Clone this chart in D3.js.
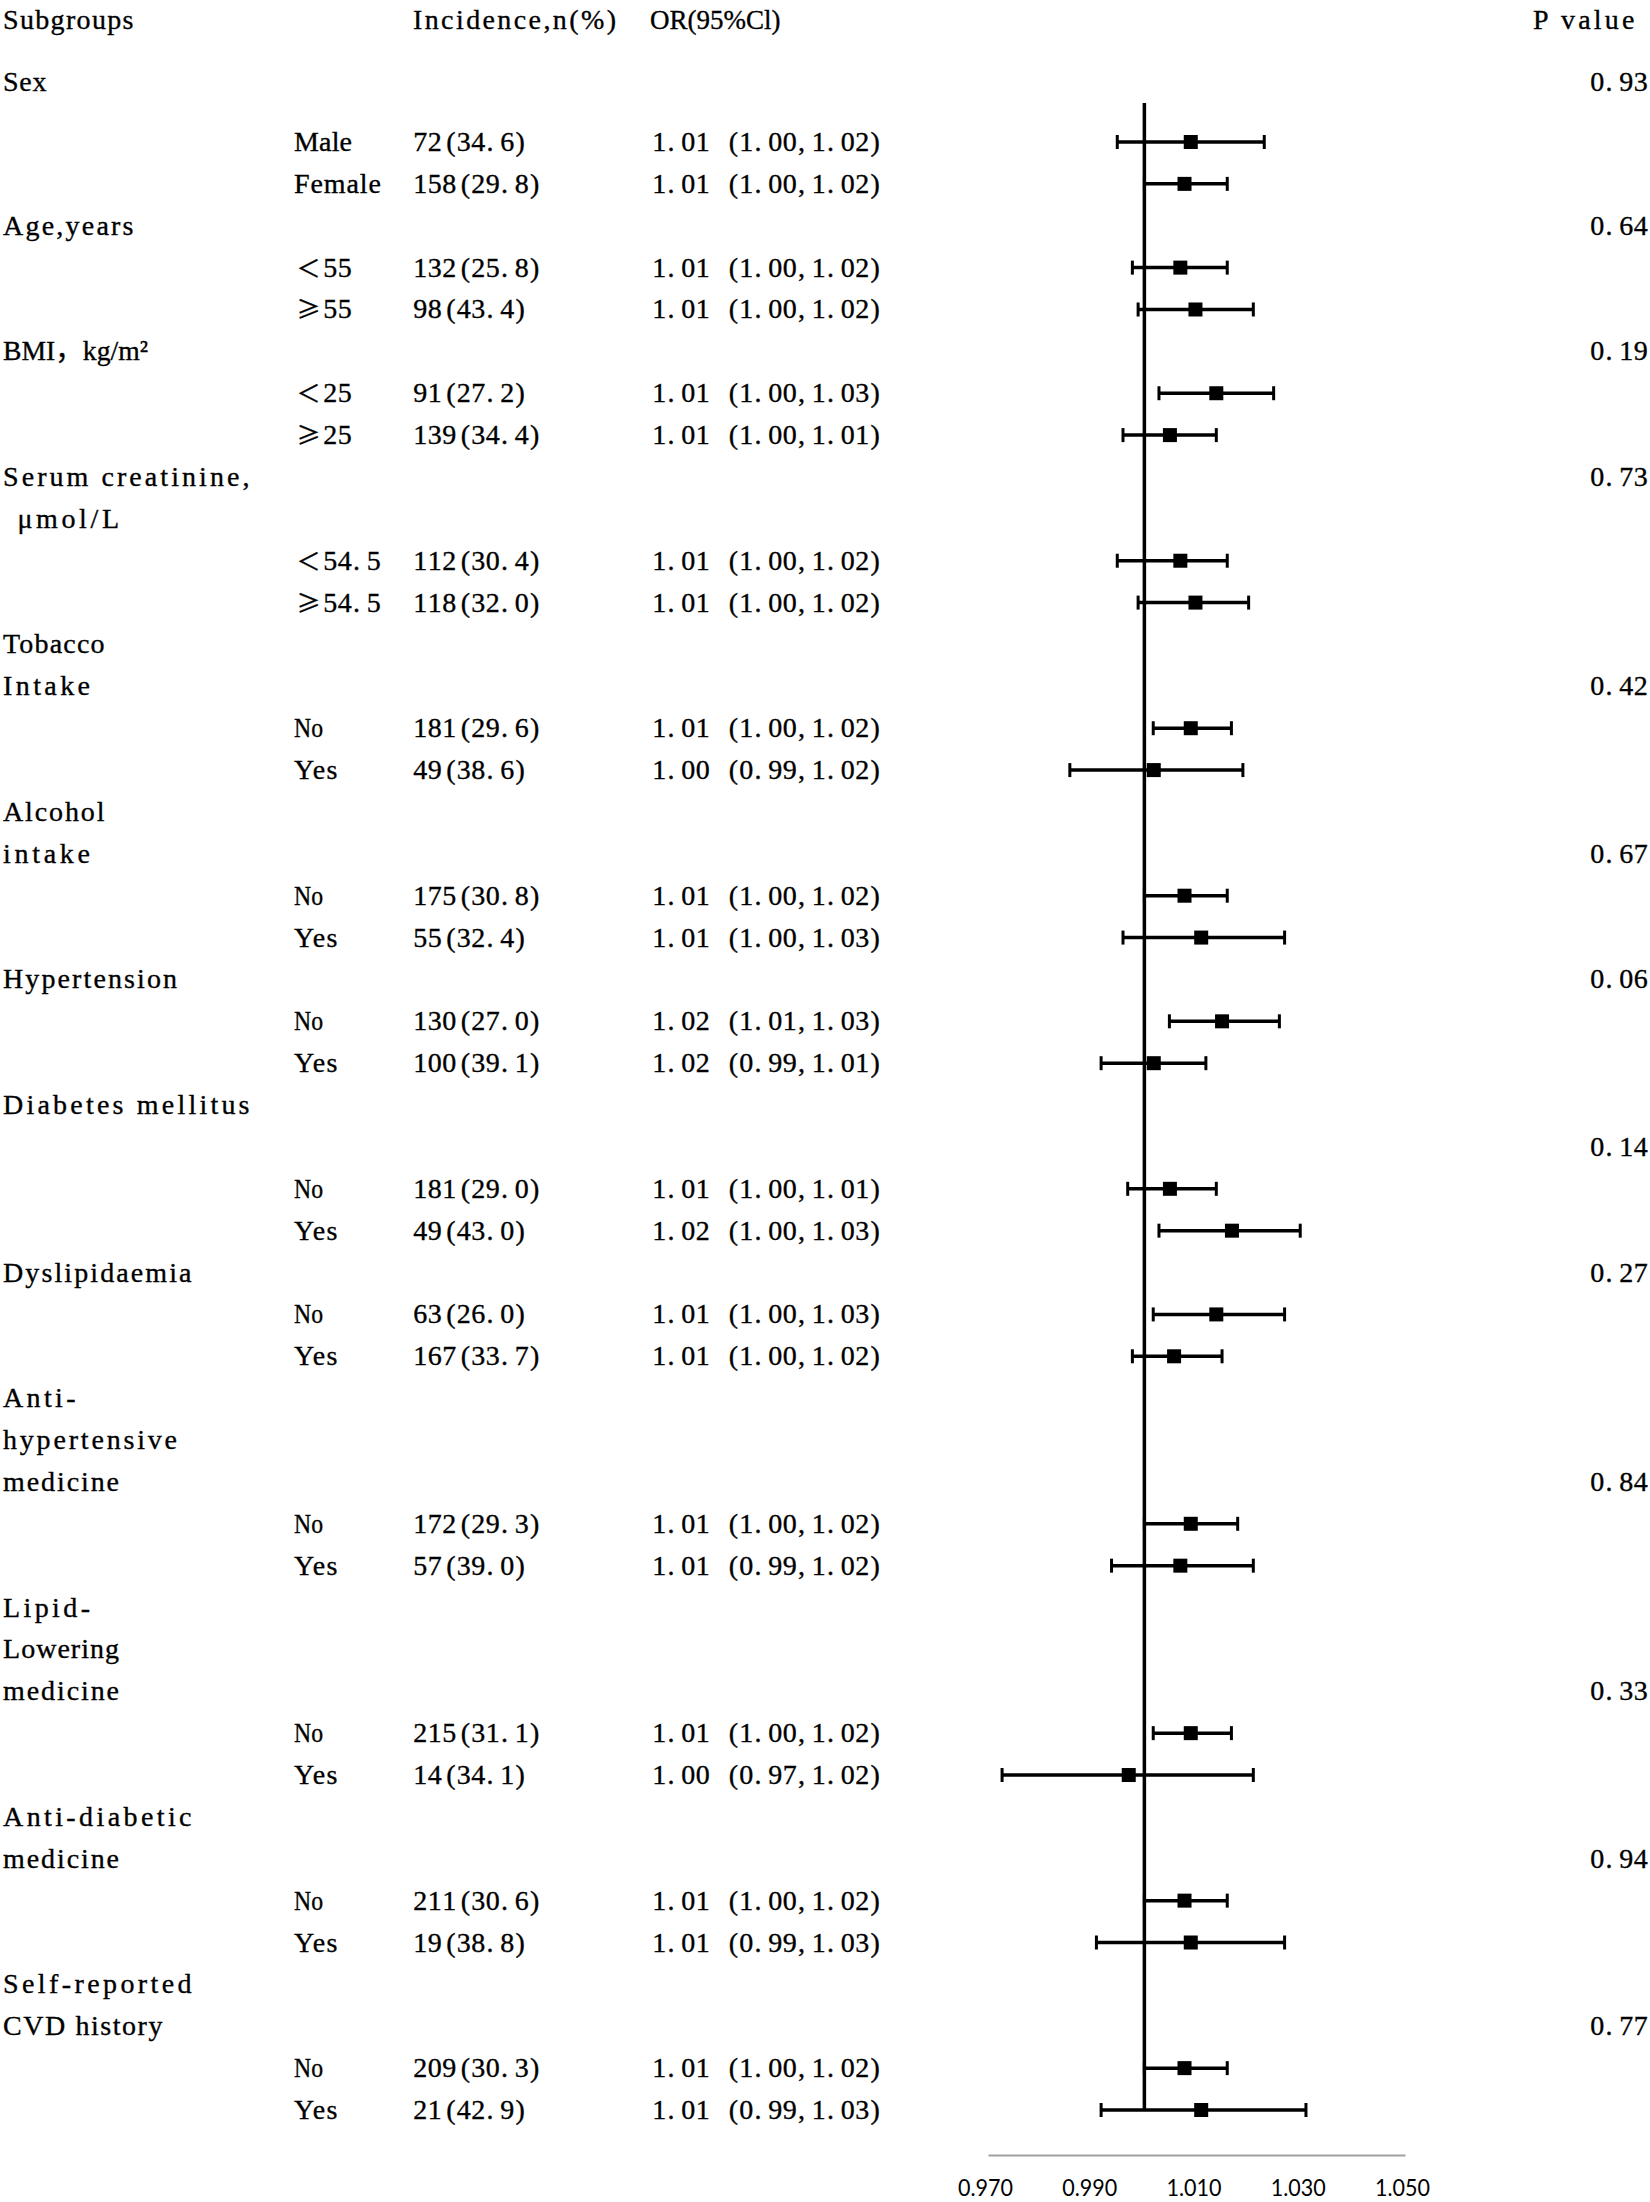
<!DOCTYPE html>
<html>
<head>
<meta charset="utf-8">
<title>Subgroup analysis forest plot</title>
<script src="https://cdn.jsdelivr.net/npm/d3@7"></script>
<style>
  body { margin: 0; background: #fff; }
  svg text { font-family: "Liberation Serif", "Times New Roman", "Noto Sans CJK SC", serif; font-size: 28px; fill: #000;
             stroke: #000; stroke-width: 0.35px; font-variant-ligatures: none; }
  .x-axis text { font-family: Lato, "Liberation Sans", sans-serif; font-size: 24px; fill: #000; stroke: none; }
  .x-axis .domain { stroke: #a0a0a0; stroke-width: 2px; }
</style>
</head>
<body>
<svg id="chart"></svg>
<script>
// ---- data ----
const headers = ["Subgroups", "Incidence,n(%)", "OR(95%Cl)", "P value"]

const groupLines = [
  ["Sex"],
  ["Age,years"],
  ["BMI，kg/m²"],
  ["Serum creatinine,", " μmol/L"],
  ["Tobacco", "Intake"],
  ["Alcohol", "intake"],
  ["Hypertension"],
  ["Diabetes mellitus", ""],
  ["Dyslipidaemia"],
  ["Anti-", "hypertensive", "medicine"],
  ["Lipid-", "Lowering", "medicine"],
  ["Anti-diabetic", "medicine"],
  ["Self-reported", "CVD history"]
]
const pValues = ["0.93", "0.64", "0.19", "0.73", "0.42", "0.67", "0.06", "0.14", "0.27", "0.84", "0.33", "0.94", "0.77"]
// which line of the group label carries the P value
const pLine = [0, 0, 0, 0, 1, 1, 0, 1, 0, 2, 2, 1, 1]

const subLabels = ["Male", "Female", "＜55", "≥55", "＜25", "≥25", "＜54.5", "≥54.5",
  "No", "Yes", "No", "Yes", "No", "Yes", "No", "Yes", "No", "Yes",
  "No", "Yes", "No", "Yes", "No", "Yes", "No", "Yes"]
const incidence = ["72(34.6)", "158(29.8)", "132(25.8)", "98(43.4)", "91(27.2)", "139(34.4)",
  "112(30.4)", "118(32.0)", "181(29.6)", "49(38.6)", "175(30.8)", "55(32.4)",
  "130(27.0)", "100(39.1)", "181(29.0)", "49(43.0)", "63(26.0)", "167(33.7)",
  "172(29.3)", "57(39.0)", "215(31.1)", "14(34.1)", "211(30.6)", "19(38.8)",
  "209(30.3)", "21(42.9)"]
const orText = ["1.01 (1.00,1.02)", "1.01 (1.00,1.02)", "1.01 (1.00,1.02)", "1.01 (1.00,1.02)",
  "1.01 (1.00,1.03)", "1.01 (1.00,1.01)", "1.01 (1.00,1.02)", "1.01 (1.00,1.02)",
  "1.01 (1.00,1.02)", "1.00 (0.99,1.02)", "1.01 (1.00,1.02)", "1.01 (1.00,1.03)",
  "1.02 (1.01,1.03)", "1.02 (0.99,1.01)", "1.01 (1.00,1.01)", "1.02 (1.00,1.03)",
  "1.01 (1.00,1.03)", "1.01 (1.00,1.02)", "1.01 (1.00,1.02)", "1.01 (0.99,1.02)",
  "1.01 (1.00,1.02)", "1.00 (0.97,1.02)", "1.01 (1.00,1.02)", "1.01 (0.99,1.03)",
  "1.01 (1.00,1.02)", "1.01 (0.99,1.03)"]

// plotted positions (as drawn)
const orEst = [1.0089, 1.0077, 1.0069, 1.0098, 1.0138, 1.0049, 1.0069, 1.0098,
  1.0089, 1.0018, 1.0077, 1.0109, 1.0149, 1.0018, 1.0049, 1.0168, 1.0138, 1.0057,
  1.0089, 1.0069, 1.0089, 0.9970, 1.0077, 1.0089, 1.0077, 1.0109]
const orLow = [0.9948, 1.0000, 0.9977, 0.9988, 1.0028, 0.9959, 0.9948, 0.9988,
  1.0017, 0.9857, 1.0000, 0.9959, 1.0048, 0.9917, 0.9968, 1.0028, 1.0017, 0.9977,
  1.0000, 0.9937, 1.0017, 0.9727, 1.0000, 0.9908, 1.0000, 0.9917]
const orHigh = [1.0230, 1.0159, 1.0159, 1.0209, 1.0248, 1.0138, 1.0159, 1.0200,
  1.0167, 1.0189, 1.0159, 1.0269, 1.0259, 1.0118, 1.0138, 1.0299, 1.0269, 1.0149,
  1.0179, 1.0209, 1.0167, 1.0209, 1.0159, 1.0269, 1.0159, 1.0310]

const tickValues = [0.970, 0.990, 1.010, 1.030, 1.050]
const refValue = 1.0

// ---- layout ----
const width = 1650
const height = 2202
const cell = 14.5          // half-width character cell of the table font
const baseShift = 9        // row centre -> text baseline
const col = {label: 3, sub: 294, inc: 413, or: 652, pRight: 1648, pHead: 1533}
const headerBaseline = 29
const firstGap = 60        // "Sex" sits a bit higher than the row grid
const nLines = 48

const x = d3.scaleLinear().domain([0.97, 1.05]).range([988, 1405])
const y = d3.scaleLinear().domain([0, nLines - 1]).range([142, 2110])

const wide = /[μ≥≤＜＞，（）\u3000-\u9fff\uff00-\uffef]/
const cellsOf = ch => wide.test(ch) ? 2 : 1
const strCells = s => d3.sum(Array.from(s), cellsOf)

// numbers: one tspan per character, placed in fixed cells like the original table font
function mono(sel, getStr, getX0) {
  sel.each(function(d) {
    const t = d3.select(this)
    let cx = getX0(d)
    Array.from(getStr(d)).forEach(ch => {
      const w = cellsOf(ch) * cell
      if (ch !== " ") {
        let px = cx + w / 2, anchor = "middle"
        if (ch === "(") { px = cx + w - 1; anchor = "end" }
        else if (ch === ")" || ch === "." || ch === ",") { px = cx + 1; anchor = "start" }
        const ts = t.append("tspan").attr("x", px.toFixed(1)).attr("text-anchor", anchor).text(ch)
        if (w > cell) ts.style("font-family", '"Noto Sans CJK SC", sans-serif').style("font-size", "24px")
      }
      cx += w
    })
  })
}

// words: stretch or squeeze to the cell width of the original
function fit(sel, getStr, getX0) {
  sel.each(function(d) {
    const raw = getStr(d)
    const lead = raw.length - raw.trimStart().length
    const s = raw.trimStart()
    const t = d3.select(this).attr("x", getX0(d) + lead * cell).text(s)
    const natural = this.getComputedTextLength()
    const target = strCells(s) * cell
    t.attr("textLength", target)
      .attr("lengthAdjust", natural > target ? "spacingAndGlyphs" : "spacing")
  })
}

const hasLetters = s => /[A-Za-z]/.test(s)

// work out which line each piece of text lands on
const labelRows = []
const pRows = []
const subRows = []
let line = 0
groupLines.forEach((lines, g) => {
  if (g === 0) {
    const yy = y(0) - firstGap
    labelRows.push({text: lines[0], y: yy})
    pRows.push({text: pValues[g], y: yy})
  } else {
    lines.forEach((t, i) => { if (t) labelRows.push({text: t, y: y(line + i)}) })
    pRows.push({text: pValues[g], y: y(line + pLine[g])})
    line += lines.length
  }
  subRows.push(line, line + 1)
  line += 2
})

const rows = subRows.map((ln, i) => ({
  y: y(ln), label: subLabels[i], inc: incidence[i], or: orText[i],
  est: orEst[i], lo: orLow[i], hi: orHigh[i]
}))

const svg = d3.select("#chart")
  .attr("width", width)
  .attr("height", height)
  .attr("viewBox", [0, 0, width, height])

svg.append("rect").attr("width", width).attr("height", height).attr("fill", "#fff")

// ---- header ----
const headX = [col.label, col.inc, col.or - 2, col.pHead]
svg.append("g").attr("class", "header")
  .selectAll("text")
  .data(headers)
  .join("text")
    .attr("y", headerBaseline)
    .call(fit, d => d, d => headX[headers.indexOf(d)])

// ---- group labels ----
svg.append("g").attr("class", "labels")
  .selectAll("text")
  .data(labelRows)
  .join("text")
    .attr("y", d => d.y + baseShift)
    .call(fit, d => d.text, () => col.label)

svg.append("g").attr("class", "pvals")
  .selectAll("text")
  .data(pRows)
  .join("text")
    .attr("y", d => d.y + baseShift)
    .call(mono, d => d.text, d => col.pRight - strCells(d.text) * cell)

// ---- subgroup rows ----
const rowG = svg.append("g").attr("class", "rows")
  .selectAll("g")
  .data(rows)
  .join("g")

rowG.filter(d => hasLetters(d.label)).append("text")
  .attr("y", d => d.y + baseShift)
  .call(fit, d => d.label, () => col.sub)

rowG.filter(d => !hasLetters(d.label)).append("text")
  .attr("y", d => d.y + baseShift)
  .call(mono, d => d.label, () => col.sub)

rowG.append("text")
  .attr("y", d => d.y + baseShift)
  .call(mono, d => d.inc, () => col.inc)

rowG.append("text")
  .attr("y", d => d.y + baseShift)
  .call(mono, d => d.or, () => col.or)

// ---- forest plot ----
const plot = svg.append("g").attr("class", "forest")

plot.append("line")
  .attr("x1", x(refValue)).attr("x2", x(refValue))
  .attr("y1", y(0) - 39).attr("y2", y(nLines - 1))
  .attr("stroke", "#000").attr("stroke-width", 3.5)

const bars = plot.selectAll("g.bar")
  .data(rows)
  .join("g")
    .attr("class", "bar")

bars.append("line")
  .attr("x1", d => x(d.lo)).attr("x2", d => x(d.hi))
  .attr("y1", d => d.y).attr("y2", d => d.y)
  .attr("stroke", "#000").attr("stroke-width", 3.5)

bars.selectAll("line.cap")
  .data(d => [{v: d.lo, y: d.y}, {v: d.hi, y: d.y}])
  .join("line")
    .attr("class", "cap")
    .attr("x1", d => x(d.v)).attr("x2", d => x(d.v))
    .attr("y1", d => d.y - 7).attr("y2", d => d.y + 7)
    .attr("stroke", "#000").attr("stroke-width", 3)

bars.append("rect")
  .attr("x", d => x(d.est) - 7)
  .attr("y", d => d.y - 7)
  .attr("width", 14)
  .attr("height", 14)
  .attr("fill", "#000")

// ---- x axis ----
const xAxis = d3.axisBottom(x)
  .tickValues(tickValues)
  .tickFormat(d3.format(".3f"))
  .tickSize(0)
  .tickSizeOuter(0)
  .tickPadding(24)

svg.append("g")
  .attr("class", "x-axis")
  .attr("transform", "translate(0,2155)")
  .call(xAxis)
  .call(g => g.selectAll(".tick text")
    .attr("dx", -3)
    .attr("textLength", 55)
    .attr("lengthAdjust", "spacingAndGlyphs"))
</script>
</body>
</html>
